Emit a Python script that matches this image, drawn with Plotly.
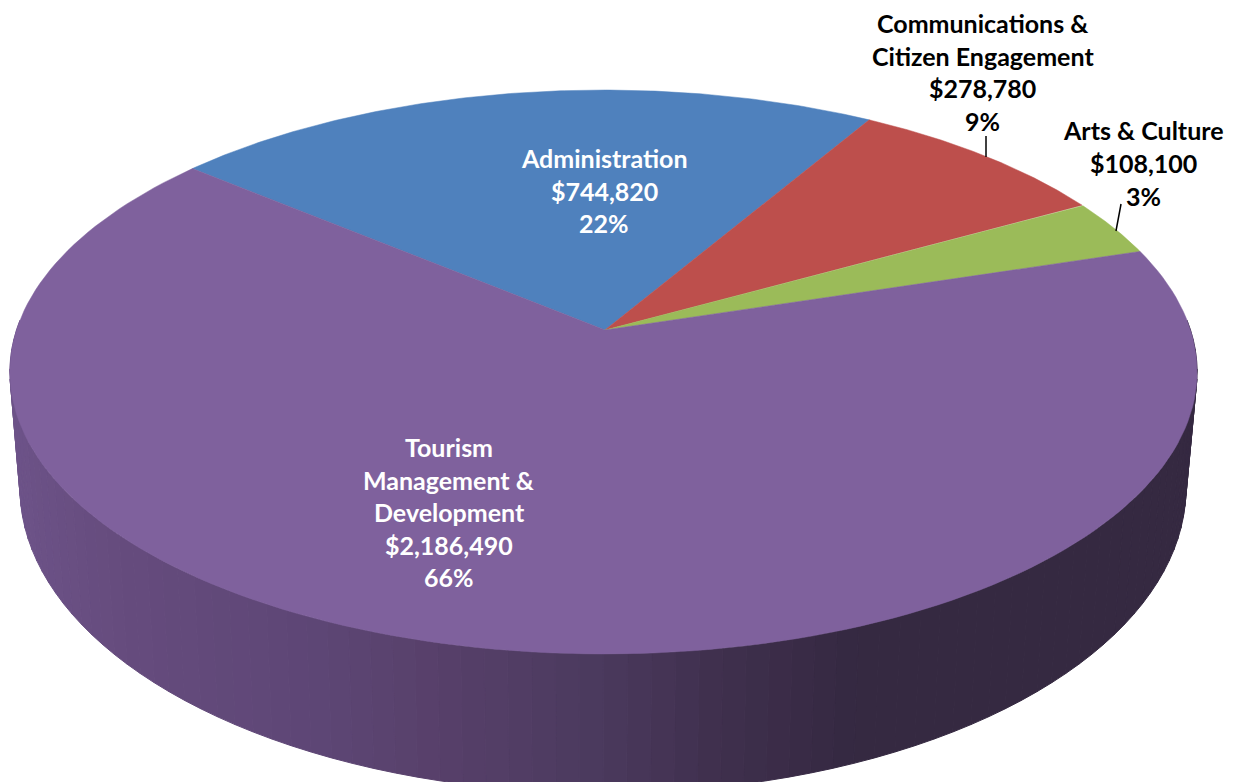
import numpy as np
import plotly.graph_objects as go

# Budget by program area
categories = ["Administration", "Communications & Citizen Engagement", "Arts & Culture",
              "Tourism Management & Development"]
amounts = [744820, 278780, 108100, 2186490]
percent_labels = ["22%", "9%", "3%", "66%"]
slice_colors = ["#4f81bd", "#bd4f4c", "#9bbb59", "#7f619d"]
name_lines = [["Administration"], ["Communications &", "Citizen Engagement"], ["Arts & Culture"],
              ["Tourism", "Management &", "Development"]]

W, H = 1233, 782

# Perspective view of the disc: apex, rim centre, horizontal and depth scales, foreshortening
APEX_X, APEX_Y = 605.0, 330.0
CENTER_X = 603.5
SCALE_U, SCALE_V, DEPTH = 587.0, 275.7, 0.1489
START_ANGLE = np.radians(-50.1)

# Outline of the lower rim of the drum
RIM_X, RIM_Y, RIM_A, RIM_B = 603.0, 488.0, 583.0, 305.0
# Ellipse that the projected top disc traces out
TOP_Y, TOP_A, TOP_B = 372.0, 593.5, 282.0


def project(theta):
    """Project disc angles (clockwise from the back) on to the page."""
    u, v = np.sin(theta), np.cos(theta)
    w = 1 + DEPTH * v
    return CENTER_X + SCALE_U * u / w, APEX_Y - SCALE_V * v / w


def wall_color(x):
    """Side shading, lit from the left and falling off towards the right."""
    stops_x = [0, 120, 300, 450, 600, 720, 860, 1233]
    stops_r = [110, 102, 95, 87, 75, 64, 53, 53]
    stops_g = [84, 76, 71, 64, 58, 48, 41, 41]
    stops_b = [138, 126, 119, 106, 94, 78, 65, 65]
    return "rgb(%d,%d,%d)" % (np.interp(x, stops_x, stops_r),
                              np.interp(x, stops_x, stops_g),
                              np.interp(x, stops_x, stops_b))


shares = np.array(amounts, dtype=float) / sum(amounts)
edges = START_ANGLE + 2 * np.pi * np.concatenate([[0], np.cumsum(shares)])

fig = go.Figure()

# Drum wall: narrow vertical bands running round the front of the disc
band_edges = np.radians(np.linspace(88, 272, 93))
for a, b in zip(band_edges[:-1], band_edges[1:]):
    ts = np.array([a, b])
    tx, ty = project(ts)
    phi = np.arctan2((tx - CENTER_X) / TOP_A, -(ty - TOP_Y) / TOP_B)
    bx = RIM_X + RIM_A * np.sin(phi)
    by = RIM_Y - RIM_B * np.cos(phi)
    xs = [tx[0], tx[1], bx[1], bx[0], tx[0]]
    ys = [ty[0], ty[1], by[1], by[0], ty[0]]
    col = wall_color(float(np.mean(xs)))
    fig.add_trace(go.Scatter(x=xs, y=ys, mode="lines", fill="toself", fillcolor=col,
                             line=dict(color=col, width=1), hoverinfo="skip", showlegend=False))

# Top face slices
for i, name in enumerate(categories):
    ts = np.linspace(edges[i], edges[i + 1], 160)
    ax, ay = project(ts)
    xs = np.concatenate([[APEX_X], ax, [APEX_X]])
    ys = np.concatenate([[APEX_Y], ay, [APEX_Y]])
    fig.add_trace(go.Scatter(x=xs, y=ys, mode="lines", fill="toself", fillcolor=slice_colors[i],
                             line=dict(color=slice_colors[i], width=0.5), name=name,
                             hovertemplate=f"{name}<br>${amounts[i]:,}<extra></extra>",
                             showlegend=False))

# Leader lines for the two labels outside the disc
for lx, ly in ([986, 986], [136, 157]), ([1121, 1116], [204, 231]):
    fig.add_trace(go.Scatter(x=lx, y=ly, mode="lines", line=dict(color="#000000", width=1.5),
                             hoverinfo="skip", showlegend=False))

# Data labels, one annotation per line so the leading stays even
label_places = [(604, 158, 32.5, "#ffffff"), (982.5, 23, 32.7, "#000000"),
                (1143, 130, 33, "#000000"), (449, 447, 32.5, "#ffffff")]
for i, (cx, y0, lead, color) in enumerate(label_places):
    lines = name_lines[i] + [f"${amounts[i]:,}", percent_labels[i]]
    for j, text in enumerate(lines):
        fig.add_annotation(x=cx, y=y0 + j * lead, text=f"<b>{text}</b>", showarrow=False,
                           xanchor="center", yanchor="middle",
                           font=dict(family="Lato", size=25, color=color))

fig.update_layout(width=W, height=H, margin=dict(l=0, r=0, t=0, b=0),
                  paper_bgcolor="#ffffff", plot_bgcolor="#ffffff", showlegend=False)
fig.update_xaxes(range=[0, W], visible=False, fixedrange=True)
fig.update_yaxes(range=[H, 0], visible=False, fixedrange=True)

fig.write_html("out.html", config=dict(displayModeBar=False))
